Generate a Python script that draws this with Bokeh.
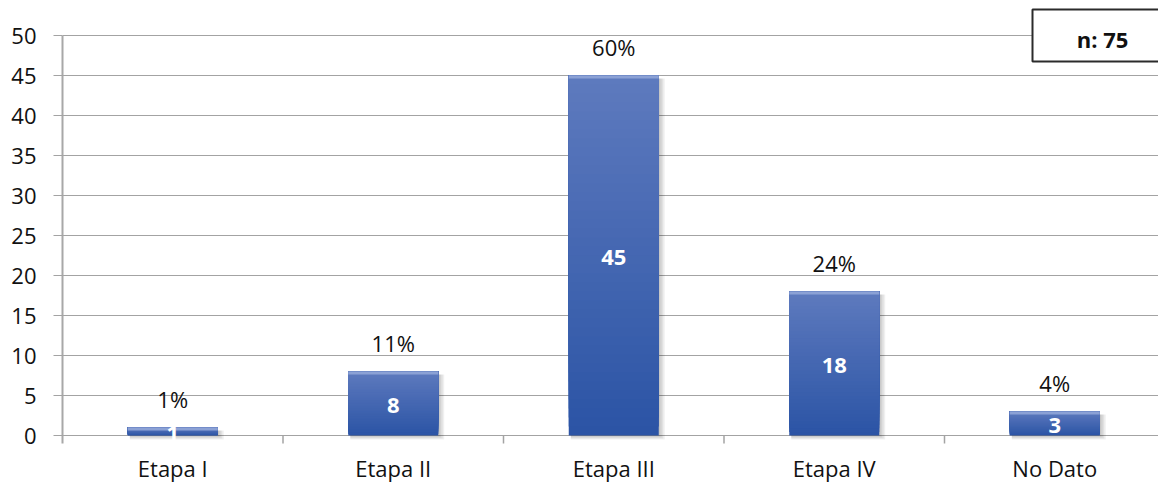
from bokeh.plotting import figure
from bokeh.models import Range1d, FixedTicker
from bokeh.core.properties import value
from bokeh.embed import file_html
from bokeh.resources import INLINE

# Data
categories = ["Etapa I", "Etapa II", "Etapa III", "Etapa IV", "No Dato"]
counts = [1, 8, 45, 18, 3]
percents = ["1%", "11%", "60%", "24%", "4%"]
y_ticks = list(range(0, 55, 5))
total_label = "n: 75"

# Layout helpers (pixels per data unit)
PX_X = 220.5
PX_Y = 8.0
LEFT = 62
BASE = 435          # pixel row of the zero line
W, H = 1158, 482
x_pos = [i + 0.5 for i in range(len(categories))]
BAR_W = 90 / PX_X
FONT = value("Open Sans")

p = figure(width=W, height=H, output_backend="svg", toolbar_location=None,
           x_range=Range1d(0, (W - LEFT) / PX_X),
           y_range=Range1d(-(H - BASE) / PX_Y, BASE / PX_Y),
           min_border_left=LEFT, min_border_right=0,
           min_border_top=0, min_border_bottom=0)
p.outline_line_color = None
p.background_fill_color = "white"
p.border_fill_color = "white"
p.xaxis.visible = False

# Grid
p.xgrid.visible = False
p.ygrid.ticker = FixedTicker(ticks=y_ticks)
p.ygrid.grid_line_color = "#a3a3a3"
p.ygrid.grid_line_width = 1

# Y axis
p.yaxis.ticker = FixedTicker(ticks=y_ticks)
p.yaxis.bounds = (-1, 50)
p.yaxis.axis_line_color = "#a8a8a8"
p.yaxis.axis_line_width = 2
p.yaxis.major_tick_line_color = "#a3a3a3"
p.yaxis.major_tick_out = 9
p.yaxis.major_tick_in = 0
p.yaxis.minor_tick_line_color = None
p.yaxis.major_label_standoff = 17
p.yaxis.major_label_text_font = "Open Sans"
p.yaxis.major_label_text_font_size = "22px"
p.yaxis.major_label_text_color = "#111111"

# Category separator ticks below the baseline
sep = list(range(1, len(categories)))
p.segment(x0=sep, y0=[-1] * len(sep), x1=sep, y1=[0] * len(sep),
          line_color="#a3a3a3", line_width=1.5)

# Category names under the baseline
p.text(x=x_pos, y=[0] * len(x_pos), text=categories, y_offset=32,
       text_align="center", text_baseline="middle",
       text_font=FONT, text_font_size="22px", text_color="#111111")

# Soft shadow to the right of / below each bar
for k in range(1, 5):
    p.quad(left=[x - BAR_W / 2 + 2 / PX_X for x in x_pos],
           right=[x + BAR_W / 2 + (1.5 * k) / PX_X for x in x_pos],
           top=[c - 3 / PX_Y for c in counts],
           bottom=[-(1.0 * k) / PX_Y] * len(counts),
           fill_color="black", fill_alpha=0.06, line_color=None)

# Bars with a vertical gradient (dark at the base, lighter at the top);
# each layer runs up to the bar top so no seams show between layers
N = 40
lo = (0x2B, 0x54, 0xA5)
hi = (0x5E, 0x7A, 0xBE)
for i in range(N):
    t = (i + 0.5) / N
    col = "#%02x%02x%02x" % tuple(int(round(a + (b - a) * t)) for a, b in zip(lo, hi))
    p.quad(left=[x - BAR_W / 2 for x in x_pos],
           right=[x + BAR_W / 2 for x in x_pos],
           bottom=[c * i / N for c in counts],
           top=counts,
           fill_color=col, line_color=None)

# Bevel highlight on the top edge
p.quad(left=[x - BAR_W / 2 for x in x_pos],
       right=[x + BAR_W / 2 for x in x_pos],
       bottom=[c - 3 / PX_Y for c in counts],
       top=counts,
       fill_color="#8ba1d5", line_color=None)

# Percent labels above bars
p.text(x=x_pos, y=counts, text=percents, y_offset=-29,
       text_align="center", text_baseline="middle",
       text_font=FONT, text_font_size="22px", text_color="#111111")

# Count labels inside bars
p.text(x=x_pos, y=[c / 2 for c in counts], text=[str(c) for c in counts], y_offset=2,
       text_align="center", text_baseline="middle",
       text_font=FONT, text_font_size="22px", text_font_style="bold",
       text_color="white")

# Sample-size box in the top right corner
p.quad(left=[(1032 - LEFT) / PX_X], right=[6.0],
       top=[(BASE - 9) / PX_Y], bottom=[(BASE - 61) / PX_Y],
       fill_color="white", line_color="#2b2b2b", line_width=2)
p.text(x=[(1102 - LEFT) / PX_X], y=[(BASE - 38) / PX_Y], text=[total_label],
       text_align="center", text_baseline="middle",
       text_font=FONT, text_font_size="22px", text_font_style="bold",
       text_color="#111111")

open("out.html", "w").write(file_html(p, INLINE))
